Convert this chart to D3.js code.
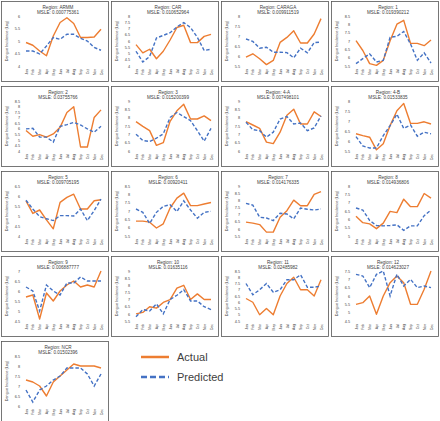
<!DOCTYPE html>
<html><head><meta charset="utf-8">
<script src="https://cdn.jsdelivr.net/npm/d3@7"></script>
<style>body{margin:0;background:#fff}svg{display:block}</style></head>
<body>
<svg id="c" width="440" height="421"></svg>
<script>
const months = ["Jan","Feb","Mar","Apr","May","Jun","Jul","Aug","Sep","Oct","Nov","Dec"];
const regionNames = ["ARMM","CAR","CARAGA","1","2","3","4-A","4-B","5","6","7","8","9","10","11","12","NCR"];
const msleLabels = ["0.000775361","0.010652964","0.009911519","0.019390212","0.03755766","0.015200399","0.007498101","0.01533835","0.009705195","0.00920411","0.014176335","0.014936806","0.006887777","0.01635116","0.02485982","0.014623027","0.01502396"];
const yMin = [4,4,5.5,5.5,4,6,6,5.5,4,5.5,5.5,5,4.5,5.5,4.5,4.5,6];
const yMax = [6,8,8,8.5,8.5,9,9,8,6.5,8.5,9,8,7,9,8.5,7.5,8.5];
const actualValues = [
 [4.94,4.83,4.6,4.41,5.2,5.74,5.93,5.7,5.14,5.14,5.16,5.47],
 [5.71,5.05,5.34,4.58,5.18,6.08,7.08,7.26,5.87,5.87,6.37,6.53],
 [5.94,6.11,5.86,5.57,5.78,6.68,6.93,7.26,6.65,6.65,7.1,7.87],
 [7.02,6.43,5.64,5.54,5.84,7.02,8.01,8.24,6.86,6.86,6.72,7.06],
 [5.84,5.33,5.48,5.25,5.54,6.13,7.46,7.99,4.36,4.36,7.02,7.7],
 [7.76,7.48,7.22,6.34,6.5,7.78,8.41,8.8,7.92,7.92,8.11,7.82],
 [7.76,7.56,7.36,6.53,6.44,7.13,8.15,8.51,7.62,7.62,8.35,8.07],
 [6.36,6.27,6.19,5.56,5.86,6.77,7.51,7.88,6.88,6.88,6.96,6.85],
 [5.76,5.13,5.3,4.81,4.36,5.68,5.93,6.09,5.35,5.35,5.76,5.81],
 [6.39,6.39,6.33,5.98,6.23,7.18,7.77,8.07,7.32,7.32,7.42,7.51],
 [6.47,6.4,6.3,5.77,5.77,6.81,7.27,8.01,7.62,7.62,8.42,8.61],
 [6.19,5.8,5.73,5.44,5.77,6.48,6.4,7.21,6.76,6.76,7.55,7.27],
 [5.7,5.8,4.6,5.9,5.5,6.0,6.3,6.5,6.2,6.3,6.2,7.0],
 [6.0,6.1,6.5,6.4,6.8,7.0,7.8,8.0,7.0,7.4,7.0,7.0],
 [6.3,6.0,5.0,5.5,5.0,6.5,7.5,8.0,7.0,7.0,6.5,7.8],
 [5.5,5.6,6.0,4.9,6.0,6.8,7.2,6.8,5.5,5.5,6.4,7.5],
 [7.3,7.2,7.0,6.5,7.2,7.5,7.8,8.1,8.0,8.0,8.0,7.9]
];
const predictedValues = [
 [4.6,4.6,4.48,4.8,5.14,5.07,5.27,5.27,5.11,5.0,4.74,4.63],
 [5.18,4.32,4.76,6.24,6.45,6.66,7.13,7.47,7.08,6.29,5.24,5.34],
 [6.85,6.73,6.39,6.44,6.19,6.19,6.17,5.91,6.39,6.16,6.67,6.7],
 [5.64,5.94,6.23,5.74,5.84,7.22,7.28,7.57,6.82,5.84,6.29,5.68],
 [5.99,6.04,5.25,5.25,4.8,6.22,6.37,6.58,6.34,5.99,5.69,6.22],
 [7.01,6.63,6.57,6.77,7.03,8.01,8.31,8.07,7.82,7.22,6.59,7.36],
 [7.72,7.28,7.22,6.83,7.13,7.92,8.07,7.62,7.68,7.22,7.38,8.11],
 [6.22,5.75,5.65,5.65,6.27,6.77,7.34,6.63,6.8,6.24,6.44,6.36],
 [5.79,5.35,4.97,4.86,4.77,5.02,5.02,5.0,5.35,4.77,5.27,5.84],
 [7.12,6.92,6.25,6.92,7.28,7.38,6.96,7.61,7.06,6.57,6.92,6.98],
 [7.78,7.66,6.81,6.76,6.58,7.09,7.04,6.7,7.46,7.37,7.32,7.39],
 [6.68,6.56,5.93,5.63,5.61,5.63,5.67,5.34,5.61,5.61,6.22,6.56],
 [6.2,6.0,5.0,6.3,6.0,5.8,6.4,6.4,6.7,6.5,6.5,6.5],
 [5.8,6.3,6.2,6.7,6.0,7.0,7.3,7.7,6.9,6.9,6.5,6.3],
 [7.5,6.6,7.0,7.5,6.8,7.0,7.8,7.8,8.2,7.2,7.2,7.3],
 [7.3,7.2,6.5,7.3,7.5,6.0,7.3,6.6,7.0,6.5,6.6,6.5],
 [6.8,6.2,6.8,7.0,7.3,7.5,7.9,7.9,7.9,7.6,7.0,7.6]
];
const legendLabels = ["Actual","Predicted"];
const colorActual = "#ED7D31", colorPred = "#4472C4";

const svg = d3.select("#c");
const font = "'Liberation Sans', Arial, sans-serif";
const W = 107, H = 80;

regionNames.forEach((name, i) => {
  const col = i % 4, row = Math.floor(i / 4);
  const g = svg.append("g").attr("transform", `translate(${1 + col * 110},${1 + row * 85})`);
  g.append("rect").attr("x",0.5).attr("y",0.5).attr("width", W).attr("height", H)
    .attr("fill", "#fff").attr("stroke", "#555").attr("stroke-width", 0.8);
  g.append("text").attr("x", 57).attr("y", 7.5).attr("text-anchor", "middle")
    .attr("font-family", font).attr("font-size", 4.6).attr("fill", "#404040").text("Region: " + name);
  g.append("text").attr("x", 57).attr("y", 12.8).attr("text-anchor", "middle")
    .attr("font-family", font).attr("font-size", 4.6).attr("fill", "#404040").text("MSLE: " + msleLabels[i]);

  const x = d3.scalePoint().domain(months).range([25, 100]);
  const y = d3.scaleLinear().domain([yMin[i], yMax[i]]).range([65, 15]);
  const ticks = d3.range(yMin[i], yMax[i] + 0.001, 0.5);

  const ya = g.append("g").attr("transform", "translate(19,0)")
    .call(d3.axisLeft(y).tickValues(ticks).tickSize(0).tickPadding(0).tickFormat(d3.format("~g")));
  ya.select(".domain").remove();
  ya.selectAll("text").attr("font-family", font).attr("font-size", 3.8).attr("fill", "#404040");

  const xa = g.append("g").attr("transform", "translate(0,67)")
    .call(d3.axisBottom(x).tickSize(0).tickPadding(0));
  xa.select(".domain").remove();
  xa.selectAll("text").attr("font-family", font).attr("font-size", 3.4).attr("fill", "#404040")
    .attr("text-anchor", "end").attr("dy", "0.32em").attr("transform", "rotate(-90)").attr("x", -1).attr("y", 0);

  g.append("text").attr("transform", "translate(7,40) rotate(-90)").attr("text-anchor", "middle")
    .attr("font-family", font).attr("font-size", 3.8).attr("fill", "#404040").text("Dengue Incidence (Log)");

  const line = d3.line().x((d, k) => x(months[k])).y(d => y(d));
  g.append("path").datum(actualValues[i]).attr("d", line).attr("fill", "none")
    .attr("stroke", colorActual).attr("stroke-width", 1.4).attr("stroke-linejoin", "round");
  g.append("path").datum(predictedValues[i]).attr("d", line).attr("fill", "none")
    .attr("stroke", colorPred).attr("stroke-width", 1.4).attr("stroke-dasharray", "3.5,2");
});

const leg = svg.append("g");
legendLabels.forEach((lab, k) => {
  const yy = 357 + k * 20;
  leg.append("line").attr("x1", 141).attr("x2", 169).attr("y1", yy).attr("y2", yy)
    .attr("stroke", k === 0 ? colorActual : colorPred).attr("stroke-width", 2.5)
    .attr("stroke-dasharray", k === 0 ? null : "6,3");
  leg.append("text").attr("x", 177).attr("y", yy + 4).attr("font-family", font)
    .attr("font-size", 11).attr("fill", "#404040").text(lab);
});
</script>
</body></html>
